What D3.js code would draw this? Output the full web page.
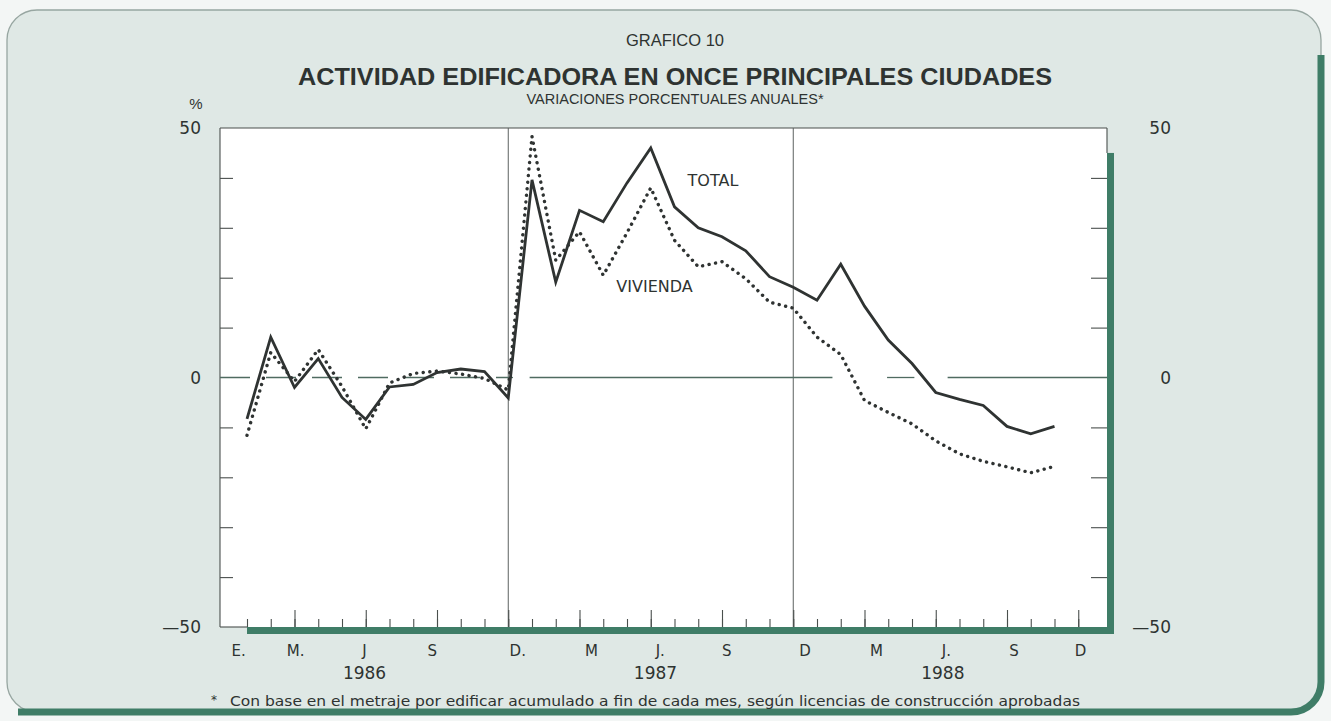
<!DOCTYPE html>
<html>
<head>
<meta charset="utf-8">
<script src="https://cdn.jsdelivr.net/npm/d3@7"></script>
<style>
  html, body { margin: 0; padding: 0; background: #f3f6f5; }
  svg { display: block; }
  text { fill: #2e3331; }
</style>
</head>
<body>
<div id="chart"></div>
<script>
// month index: 0 = enero 1986 ... 34 = noviembre 1988
var total = [
    -8.3, 8.1, -2.0, 3.8, -4.0, -8.4, -1.9, -1.4, 1.0, 1.7, 1.2, -4.1,
    39.6, 19.1, 33.5, 31.2, 39.0, 46.0, 34.2, 30.0, 28.2, 25.4, 20.2, 18.1,
    15.5, 22.7, 14.3, 7.5, 2.8, -3.0, -4.4, -5.6, -9.8, -11.3, -9.8
];
var vivienda = [
    -11.6, 5.0, -0.8, 5.6, -1.8, -10.3, -1.1, 0.8, 1.3, 0.7, -0.2, -2.5,
    48.3, 23.5, 29.2, 20.5, 29.0, 38.0, 27.5, 22.2, 23.2, 19.8, 15.1, 13.9,
    8.1, 4.6, -4.6, -7.0, -9.3, -12.7, -15.3, -16.8, -17.9, -19.1, -17.8
];

// axis ticks and labels
var yTicks = [-40, -30, -20, -10, 10, 20, 30, 40];
var yLabels = [50, 0, -50];
var yLabelText = ['50', '0', '\u201450'];
var monthTicks = d3.range(36);                 // ene 86 .. dic 88
var quarterTicks = [2, 5, 8, 11, 14, 17, 20, 23, 26, 29, 32, 35];
var monthLabels = ['E.', 'M.', 'J', 'S', 'D.', 'M', 'J.', 'S', 'D', 'M', 'J.', 'S', 'D'];
var monthLabelAt = [-0.35, 2.05, 4.95, 7.8, 11.4, 14.5, 17.4, 20.2, 23.5, 26.5, 29.45, 32.3, 35.1];
var years = ['1986', '1987', '1988'];
var yearAt = [4.95, 17.2, 29.3];
var yearBreaks = [11, 23];                     // diciembre 86 y 87

// series labels (month index, value)
var seriesLabels = [
    {text: 'TOTAL', m: 18.55, v: 39.6},
    {text: 'VIVIENDA', m: 15.55, v: 18.2}
];

var W = 1331, H = 721;
var fontAxis = 'DejaVu Sans, sans-serif';
var fontHead = 'Liberation Sans, Arial, sans-serif';
var green = '#3f7d67';

var svg = d3.select('#chart').append('svg')
    .attr('width', W)
    .attr('height', H);

// rounded panel
svg.append('rect')
    .attr('x', 7).attr('y', 10)
    .attr('width', 1314).attr('height', 702)
    .attr('rx', 30).attr('ry', 30)
    .attr('fill', '#dfe8e5')
    .attr('stroke', '#97a6a1')
    .attr('stroke-width', 1.3);

// thick green edge, right and bottom
svg.append('path')
    .attr('d', 'M1321,55 L1321,682 A30,30 0 0 1 1291,712 L18,712')
    .attr('fill', 'none')
    .attr('stroke', green)
    .attr('stroke-width', 7);

// scales
var x = d3.scaleLinear().domain([0, 35]).range([247, 247 + 35 * 23.75]);
var y = d3.scaleLinear().domain([-50, 50]).range([627, 128]);
var left = x.invert(220), right = x.invert(1107);

// plot area
svg.append('rect')
    .attr('x', x(left)).attr('y', y(50))
    .attr('width', x(right) - x(left)).attr('height', y(-50) - y(50))
    .attr('fill', '#ffffff');

var frame = svg.append('g')
    .attr('stroke', '#4a4f4d')
    .attr('stroke-width', 1.1)
    .attr('fill', 'none');

// top, left, right stub, bottom stub
frame.append('line').attr('x1', x(left)).attr('x2', x(right)).attr('y1', y(50)).attr('y2', y(50));
frame.append('line').attr('x1', x(left)).attr('x2', x(left)).attr('y1', y(50)).attr('y2', y(-50));
frame.append('line').attr('x1', x(right)).attr('x2', x(right)).attr('y1', y(50)).attr('y2', y(45));
frame.append('line').attr('x1', x(left)).attr('x2', x(0)).attr('y1', y(-50)).attr('y2', y(-50));

// green bars on right and bottom of the plot
svg.append('rect')
    .attr('x', x(right)).attr('y', y(45))
    .attr('width', 7).attr('height', y(-50) - y(45) + 7)
    .attr('fill', green);
svg.append('rect')
    .attr('x', x(0)).attr('y', y(-50))
    .attr('width', x(right) - x(0) + 7).attr('height', 7)
    .attr('fill', green);

// year separators
svg.append('g').selectAll('line')
    .data(yearBreaks)
    .enter().append('line')
        .attr('x1', function(d){ return x(d); })
        .attr('x2', function(d){ return x(d); })
        .attr('y1', y(50))
        .attr('y2', y(-50))
        .attr('stroke', '#5c6260')
        .attr('stroke-width', 1);

// zero line: dashed in 1986, mostly solid later
var zeroParts = [
    {a: left, b: 11.2, dash: '30 16'},
    {a: 11.9, b: 24.65, dash: null},
    {a: 26.95, b: 28.1, dash: null},
    {a: 29.5, b: right, dash: null}
];
svg.append('g').selectAll('line')
    .data(zeroParts)
    .enter().append('line')
        .attr('x1', function(d){ return x(d.a); })
        .attr('x2', function(d){ return x(d.b); })
        .attr('y1', y(0))
        .attr('y2', y(0))
        .attr('stroke', '#4f6b61')
        .attr('stroke-width', 1.3)
        .attr('stroke-dasharray', function(d){ return d.dash; });

// left ticks (inward)
var leftTicks = svg.append('g')
    .attr('transform', 'translate(' + x(left) + ',0)')
    .call(d3.axisLeft(y).tickValues(yTicks).tickSize(-13).tickFormat(''));
// right ticks (inward)
var rightTicks = svg.append('g')
    .attr('transform', 'translate(' + x(right) + ',0)')
    .call(d3.axisRight(y).tickValues(yTicks).tickSize(-16).tickFormat(''));
// bottom ticks: short every month, long every quarter
var shortTicks = svg.append('g')
    .attr('transform', 'translate(0,' + y(-50) + ')')
    .call(d3.axisBottom(x).tickValues(monthTicks).tickSize(-8).tickFormat(''));
var longTicks = svg.append('g')
    .attr('transform', 'translate(0,' + y(-50) + ')')
    .call(d3.axisBottom(x).tickValues(quarterTicks).tickSize(-17).tickFormat(''));

[leftTicks, rightTicks, shortTicks, longTicks].forEach(function(g){
    g.select('.domain').remove();
    g.selectAll('line').attr('stroke', '#4a4f4d').attr('stroke-width', 1.1);
});

// y labels both sides
svg.append('g').selectAll('text')
    .data(yLabels)
    .enter().append('text')
        .attr('x', 201)
        .attr('y', function(d){ return y(d); })
        .attr('dy', '0.36em')
        .attr('text-anchor', 'end')
        .style('font-family', fontAxis)
        .style('font-size', '17px')
        .text(function(d, i){ return yLabelText[i]; });
svg.append('g').selectAll('text')
    .data(yLabels)
    .enter().append('text')
        .attr('x', 1171)
        .attr('y', function(d){ return y(d); })
        .attr('dy', '0.36em')
        .attr('text-anchor', 'end')
        .style('font-family', fontAxis)
        .style('font-size', '17px')
        .text(function(d, i){ return yLabelText[i]; });

// month and year labels
svg.append('g').selectAll('text')
    .data(monthLabels)
    .enter().append('text')
        .attr('x', function(d, i){ return x(monthLabelAt[i]); })
        .attr('y', 656)
        .attr('text-anchor', 'middle')
        .style('font-family', fontAxis)
        .style('font-size', '15px')
        .text(function(d){ return d; });
svg.append('g').selectAll('text')
    .data(years)
    .enter().append('text')
        .attr('x', function(d, i){ return x(yearAt[i]); })
        .attr('y', 679)
        .attr('text-anchor', 'middle')
        .style('font-family', fontAxis)
        .style('font-size', '17px')
        .text(function(d){ return d; });

// series lines
var line = d3.line()
    .x(function(d, i){ return x(i); })
    .y(function(d){ return y(d); });

svg.append('path')
    .datum(vivienda)
    .attr('d', line)
    .attr('fill', 'none')
    .attr('stroke', '#2f3332')
    .attr('stroke-width', 3.4)
    .attr('stroke-linecap', 'round')
    .attr('stroke-dasharray', '0.1 6.5');

svg.append('path')
    .datum(total)
    .attr('d', line)
    .attr('fill', 'none')
    .attr('stroke', '#2f3332')
    .attr('stroke-width', 2.8)
    .attr('stroke-linejoin', 'miter');

svg.append('g').selectAll('text')
    .data(seriesLabels)
    .enter().append('text')
        .attr('x', function(d){ return x(d.m); })
        .attr('y', function(d){ return y(d.v); })
        .attr('dy', '0.36em')
        .style('font-family', fontAxis)
        .style('font-size', '16px')
        .text(function(d){ return d.text; });

// headings
svg.append('text')
    .attr('x', 675).attr('y', 46)
    .attr('text-anchor', 'middle')
    .style('font-family', fontHead)
    .style('font-size', '16.5px')
    .text('GRAFICO 10');
svg.append('text')
    .attr('x', 675).attr('y', 85)
    .attr('text-anchor', 'middle')
    .attr('textLength', 754)
    .attr('lengthAdjust', 'spacingAndGlyphs')
    .style('font-family', fontHead)
    .style('font-size', '24px')
    .style('font-weight', 'bold')
    .text('ACTIVIDAD EDIFICADORA EN ONCE PRINCIPALES CIUDADES');
svg.append('text')
    .attr('x', 675).attr('y', 104)
    .attr('text-anchor', 'middle')
    .style('font-family', fontHead)
    .style('font-size', '14.5px')
    .text('VARIACIONES PORCENTUALES ANUALES*');
svg.append('text')
    .attr('x', 196).attr('y', 109)
    .attr('text-anchor', 'middle')
    .style('font-family', fontHead)
    .style('font-size', '15px')
    .text('%');

// footnote
svg.append('text')
    .attr('x', 211).attr('y', 704)
    .style('font-family', fontAxis)
    .style('font-size', '12px')
    .text('*');
svg.append('text')
    .attr('x', 230).attr('y', 706)
    .attr('textLength', 850)
    .attr('lengthAdjust', 'spacingAndGlyphs')
    .style('font-family', fontAxis)
    .style('font-size', '14px')
    .text('Con base en el metraje por edificar acumulado a fin de cada mes, según licencias de construcción aprobadas');
</script>
</body>
</html>
